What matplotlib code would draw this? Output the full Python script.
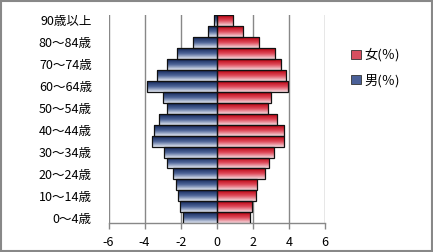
import matplotlib
matplotlib.use("Agg")
import matplotlib.pyplot as plt
import numpy as np
from matplotlib.colors import LinearSegmentedColormap
from matplotlib.patches import Patch, Rectangle

plt.rcParams['font.family'] = ['Noto Sans CJK JP', 'DejaVu Sans']

age_groups = ["0～4歳", "5～9歳", "10～14歳", "15～19歳", "20～24歳", "25～29歳",
              "30～34歳", "35～39歳", "40～44歳", "45～49歳", "50～54歳", "55～59歳",
              "60～64歳", "65～69歳", "70～74歳", "75～79歳", "80～84歳", "85～89歳", "90歳以上"]
male = [-1.86, -2.05, -2.16, -2.27, -2.40, -2.73, -2.90, -3.60, -3.46, -3.18,
        -2.77, -2.96, -3.84, -3.32, -2.77, -2.21, -1.34, -0.49, -0.18]
female = [1.84, 1.95, 2.17, 2.23, 2.67, 2.89, 3.17, 3.72, 3.72, 3.35,
          2.83, 3.00, 3.94, 3.83, 3.54, 3.22, 2.34, 1.45, 0.90]
series_labels = ["女(％)", "男(％)"]
xticks = [-6, -4, -2, 0, 2, 4, 6]

W, H = 433, 252
fig = plt.figure(figsize=(W / 100, H / 100), dpi=100)
ax = fig.add_axes([108.5 / W, 1 - 223.3 / H, (325 - 108.5) / W, (223.3 - 15) / H])

blue_cmap = LinearSegmentedColormap.from_list("b", ["#13265a", "#4f6699", "#e6ebf4"])
red_cmap = LinearSegmentedColormap.from_list("r", ["#b8000e", "#df4a5a", "#f6dde2"])

y = np.arange(len(age_groups))
grad = np.linspace(0, 1, 64).reshape(-1, 1)

for vals, cmap in ((male, blue_cmap), (female, red_cmap)):
    bars = ax.barh(y, vals, height=1.0, color="none", edgecolor="#111111",
                   linewidth=0.9, zorder=4)
    for b in bars:
        x0, yb = b.get_x(), b.get_y()
        w, h = b.get_width(), b.get_height()
        ax.imshow(grad, extent=[x0, x0 + w, yb, yb + h], origin="upper",
                  cmap=cmap, aspect="auto", zorder=3, interpolation="bilinear")

ax.set_xlim(-6, 6)
ax.set_ylim(-0.5, len(age_groups) - 0.5)
ax.set_xticks(xticks)
ax.set_xticklabels([str(t) for t in xticks], fontsize=9)
ax.set_yticks(y[::2])
ax.set_yticklabels(age_groups[::2], fontsize=9)
ax.tick_params(axis="y", length=0, pad=12)
ax.tick_params(axis="x", length=4, color="#888888", pad=5, width=1)
ax.grid(axis="x", color="#888888", linewidth=1, zorder=1)
ax.set_axisbelow(True)
for s in ("top", "right", "left"):
    ax.spines[s].set_visible(False)
ax.spines["bottom"].set_color("#888888")
ax.spines["bottom"].set_linewidth(1)

handles = [Patch(facecolor="#d85060", edgecolor="#333333", linewidth=0.6),
           Patch(facecolor="#4a6098", edgecolor="#333333", linewidth=0.6)]
leg = fig.legend(handles, series_labels, loc="upper left",
                 bbox_to_anchor=(346 / W, 1 - 43 / H), frameon=False,
                 fontsize=9.5, handlelength=0.7, handleheight=0.7,
                 handletextpad=0.3, labelspacing=0.9, borderaxespad=0)

fig.patches.append(Rectangle((0.002, 0.003), 0.995, 0.994, transform=fig.transFigure,
                             fill=False, edgecolor="#888888", linewidth=1.5))

fig.savefig("out.png", dpi=100)
